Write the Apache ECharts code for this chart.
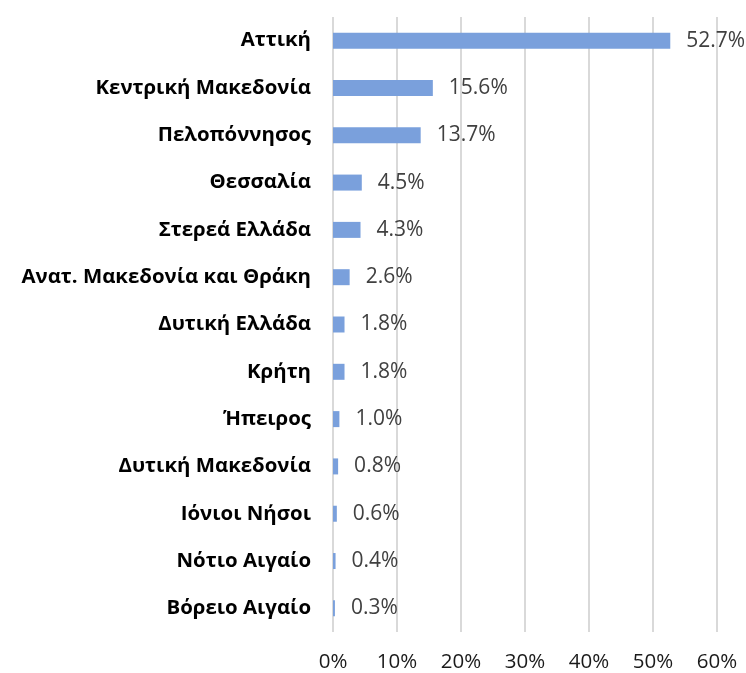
<!DOCTYPE html>
<html>
<head>
<meta charset="utf-8">
<script src="https://cdn.jsdelivr.net/npm/echarts@6/dist/echarts.min.js"></script>
<style>
  html, body { margin: 0; padding: 0; background: #fff; }
  #chart { width: 746px; height: 673px; }
</style>
</head>
<body>
<div id="chart"></div>
<script>
var myChart = echarts.init(document.getElementById('chart'));

// regions, top to bottom
var regions = ['Αττική', 'Κεντρική Μακεδονία', 'Πελοπόννησος', 'Θεσσαλία', 'Στερεά Ελλάδα',
    'Ανατ. Μακεδονία και Θράκη', 'Δυτική Ελλάδα', 'Κρήτη', 'Ήπειρος', 'Δυτική Μακεδονία',
    'Ιόνιοι Νήσοι', 'Νότιο Αιγαίο', 'Βόρειο Αιγαίο'];
var shares = [52.7, 15.6, 13.7, 4.5, 4.3, 2.6, 1.8, 1.8, 1.0, 0.8, 0.6, 0.4, 0.3];
var xTicks = [0, 10, 20, 30, 40, 50, 60];

var gridColor = '#d9d9d9';
var barColor = '#7aa0dc';

var option = {
    backgroundColor: '#ffffff',
    animation: false,
    grid: {
        left: 333,
        right: 29,
        top: 17,
        bottom: 39
    },
    xAxis: {
        type: 'value',
        min: xTicks[0],
        max: xTicks[xTicks.length - 1],
        interval: 10,
        axisLine: { show: false },
        axisTick: { show: false },
        splitLine: {
            show: true,
            lineStyle: { color: gridColor, width: 2 }
        },
        axisLabel: {
            margin: 20,
            color: '#1a1a1a',
            fontSize: 20.5,
            fontFamily: 'Open Sans',
            formatter: function (v) { return v + '%'; }
        }
    },
    yAxis: {
        type: 'category',
        inverse: true,
        data: regions,
        axisLine: { show: false },
        axisTick: { show: false },
        axisLabel: {
            margin: 22,
            color: '#000',
            fontSize: 20.4,
            fontWeight: 'bold',
            fontFamily: 'Open Sans'
        }
    },
    series: [{
        type: 'bar',
        data: shares,
        barWidth: 16,
        itemStyle: { color: barColor },
        label: {
            show: true,
            position: 'right',
            distance: 16,
            color: '#404040',
            fontSize: 21,
            fontFamily: 'Open Sans',
            formatter: function (p) { return p.value.toFixed(1) + '%'; }
        }
    }]
};

myChart.setOption(option);
</script>
</body>
</html>
